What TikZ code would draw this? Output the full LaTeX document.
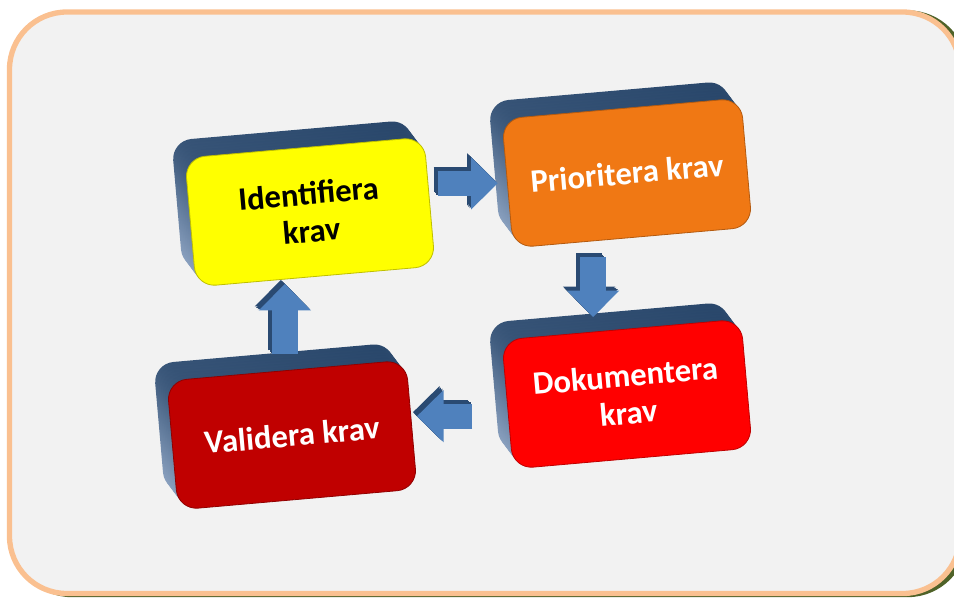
\documentclass[tikz,border=0pt]{standalone}
\usepackage{fontspec}
\setmainfont{Carlito}
\usepackage{tikz}
\usetikzlibrary{arrows.meta,calc,shadows}
\definecolor{ramfyll}{RGB}{242,242,242}
\definecolor{ramkant}{RGB}{250,192,144}
\definecolor{ramskugga}{RGB}{79,98,40}
\definecolor{kravgul}{RGB}{255,255,0}
\definecolor{kravorange}{RGB}{240,120,20}
\definecolor{kravrod}{RGB}{255,0,0}
\definecolor{kravmork}{RGB}{192,0,0}
\definecolor{sidamork}{RGB}{40,70,106}
\definecolor{sidaljus}{RGB}{146,168,198}
\definecolor{pilbla}{RGB}{79,129,189}
\definecolor{pilkant}{RGB}{42,74,114}

\begin{document}
\begin{tikzpicture}[x=0.75pt,y=-0.75pt,% one unit is one pixel of the slide, y runs downwards
			every node/.style={
				align=center,		% use this so that the "\\" for line break works
				font=\bfseries\fontsize{24.5}{28}\selectfont
			},
			sida/.style args={#1/#2}{general shadow={shadow xshift=-#1,shadow yshift=#2,top color=sidamork,bottom color=sidaljus}},
			krav/.style={
				rectangle,rounded corners=15pt,rotate=5,
				minimum width=180pt,minimum height=97pt,	% all four boxes have the same size
				line width=0.6pt,
				sida/.list={10pt/13pt,8.5pt/11pt,7pt/9pt,5.5pt/7pt,4pt/5pt,2.5pt/3pt,1pt/1.2pt}	% the 3d side, back to front
			},
			pil/.style={line width=19pt,draw=pilbla,-{Triangle[length=20pt,width=38pt]}},
			pilsida/.style={pil,draw=pilkant,transform canvas={shift={(-#1,#1)}}}
		]
		\useasboundingbox (0,0) rectangle (954,597);
		% frame of the slide, it runs out of the picture on the right
		\draw[rounded corners=43pt,line width=4pt,draw=ramskugga,fill=ramskugga] (14.5,13) rectangle (965,594.5);
		\draw[rounded corners=43pt,line width=4pt,draw=ramkant,fill=ramfyll] (9.5,12) rectangle (960,593.5);
		% the four steps
		\node[krav,fill=kravgul,draw=kravgul!75!black](K1) at (310,212){Identifiera\\krav};
		\node[krav,fill=kravorange,draw=kravorange!75!black,text=white](K2) at (627,173){Prioritera krav};
		\node[krav,fill=kravrod,draw=kravrod!75!black,text=white](K3) at (627,394){Dokumentera\\krav};
		\node[krav,fill=kravmork,draw=kravmork!75!black,text=white](K4) at (292,435){Validera krav};
		% where the arrows leave and meet the boxes
		\coordinate (p1) at ($(K1.north east)!0.36!(K1.south east)$);
		\coordinate (q1) at (p1 -| K2.west);
		\coordinate (p2) at ($(K2.south west)!0.335!(K2.south east)$);
		\coordinate (q2) at (p2 |- K3.north);
		\coordinate (p3) at ($(K3.north west)!0.59!(K3.south west)$);
		\coordinate (q3) at ($(p3 -| K4.east)+(5,0)$);
		\coordinate (p4) at ($(K4.north west)!0.494!(K4.north east)$);
		\coordinate (q4) at ($(p4 |- K1.south)+(0,7)$);
		\foreach \fra/\till/\ut/\inn in {p1/q1/7pt/7pt,p2/q2/12pt/9pt,p3/q3/27pt/0pt,p4/q4/12pt/0pt}{
			\foreach \s in {3pt,2pt,1pt}
				\draw[pilsida=\s,shorten <=\ut,shorten >=\inn] (\fra) -- (\till);
			\draw[pil,shorten <=\ut,shorten >=\inn] (\fra) -- (\till);
		}
	\end{tikzpicture}
\end{document}
